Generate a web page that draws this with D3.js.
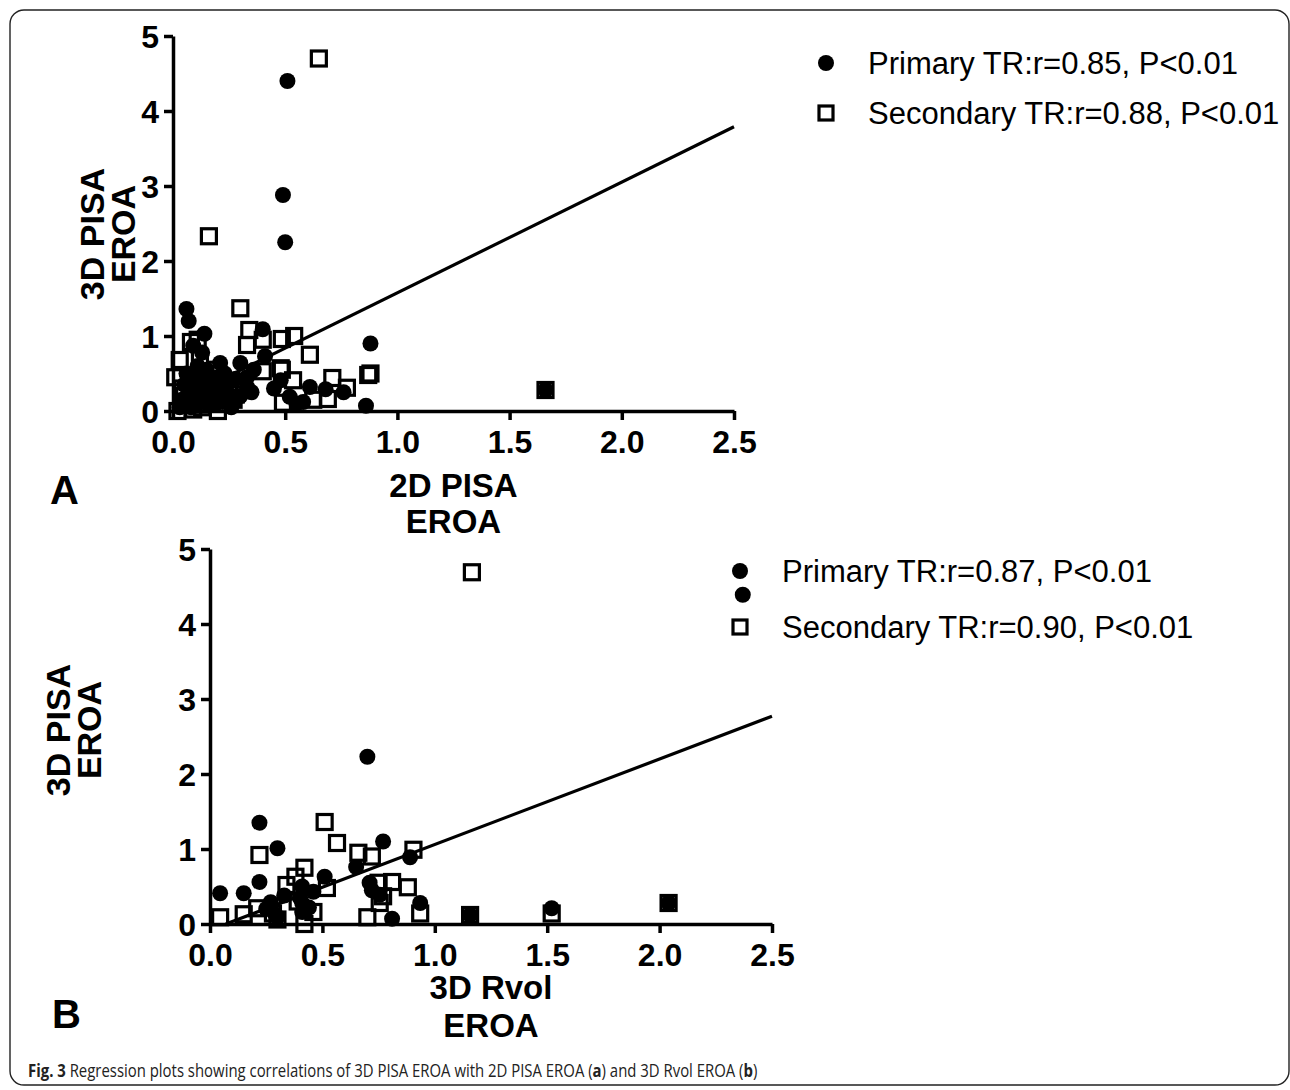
<!DOCTYPE html>
<html><head><meta charset="utf-8">
<script src="https://cdn.jsdelivr.net/npm/d3@7"></script>
<style>
html,body{margin:0;padding:0;background:#fff;}
svg{display:block;}
.tick text{font-family:"Liberation Sans Narrow","Liberation Sans",Arial,sans-serif;font-weight:bold;}
</style></head>
<body>
<svg id="chart" width="1290" height="1090"></svg>
<script>
// ---------- data ----------
const xTickValues = [0, 0.5, 1.0, 1.5, 2.0, 2.5];
const yTickValues = [0, 1, 2, 3, 4, 5];

const panelA_primary = [
  [0.51,4.40],[0.49,2.88],[0.50,2.25],[0.06,1.36],[0.07,1.20],[0.14,1.03],[0.40,1.09],
  [0.09,0.87],[0.13,0.78],[0.41,0.73],[0.21,0.64],[0.30,0.64],[0.88,0.90],[0.86,0.07],
  [0.48,0.41],[0.61,0.32],[0.68,0.29],[0.76,0.25],[0.33,0.32],[0.52,0.19],[0.28,0.43],
  [0.05,0.35],[0.08,0.25],[0.10,0.15],[0.12,0.40],[0.15,0.55],[0.17,0.30],[0.19,0.10],
  [0.23,0.50],[0.25,0.22],[0.03,0.05],[0.11,0.60],[0.16,0.08],[0.27,0.12],[0.36,0.55],
  [0.55,0.10],[0.58,0.12],[0.45,0.30],[1.66,0.28],[0.20,0.45],[0.06,0.50],[0.14,0.20],
  [0.04,0.15],[0.09,0.45],[0.13,0.30],[0.18,0.20],[0.22,0.12],[0.24,0.38],[0.30,0.20],
  [0.33,0.45],[0.20,0.28],[0.08,0.05],[0.26,0.05],[0.35,0.25],[0.11,0.10],[0.16,0.40]
];
const panelA_secondary = [
  [0.65,4.70],[0.16,2.33],[0.30,1.37],[1.66,0.28],[0.54,1.00],[0.61,0.75],[0.87,0.48],
  [0.88,0.50],[0.71,0.44],[0.535,0.41],[0.485,0.55],[0.625,0.15],[0.69,0.16],[0.775,0.31],
  [0.34,1.08],[0.33,0.88],[0.40,0.95],[0.485,0.96],[0.40,0.53],[0.48,0.57],[0.03,0.68],
  [0.01,0.45],[0.08,0.92],[0.11,0.95],[0.49,0.11],[0.20,0.00],[0.02,0.00],[0.18,0.26],
  [0.22,0.33],[0.27,0.15],[0.05,0.20],[0.10,0.35],[0.13,0.05],[0.15,0.42],[0.07,0.10],
  [0.25,0.30],[0.12,0.70],[0.19,0.55],[0.04,0.30],[0.28,0.22],[0.09,0.02]
];
const panelA_fitX = [0.0, 2.5];
const panelA_fitY = [0.10, 3.79];

const panelB_primary = [
  [2.37,4.39],[0.70,2.23],[0.22,1.35],[0.30,1.01],[0.77,1.10],[0.65,0.76],[0.89,0.89],
  [0.045,0.41],[0.15,0.41],[0.22,0.56],[0.27,0.29],[0.33,0.38],[0.41,0.50],[0.46,0.43],
  [0.51,0.63],[0.41,0.28],[0.41,0.16],[0.30,0.09],[0.71,0.55],[0.755,0.39],[0.81,0.07],
  [0.935,0.28],[1.157,0.12],[1.52,0.21],[2.04,0.28],[0.29,0.13],[0.40,0.35],[0.72,0.45],
  [0.25,0.20],[0.44,0.22]
];
const panelB_secondary = [
  [1.165,4.69],[0.51,1.36],[0.565,1.08],[0.22,0.92],[0.66,0.95],[0.72,0.90],[0.905,0.99],
  [0.42,0.75],[0.38,0.63],[0.34,0.52],[0.52,0.48],[0.81,0.56],[0.88,0.49],[0.75,0.55],
  [0.77,0.37],[0.045,0.09],[0.15,0.13],[0.21,0.21],[0.28,0.14],[0.46,0.16],[0.42,0.00],
  [0.70,0.09],[0.755,0.28],[0.935,0.14],[1.157,0.12],[1.52,0.14],[2.04,0.28],[0.30,0.06],
  [0.39,0.30]
];
const panelB_fitX = [0.07, 2.5];
const panelB_fitY = [0.0, 2.77];

const legendA = ["Primary TR:r=0.85, P<0.01", "Secondary TR:r=0.88, P<0.01"];
const legendB = ["Primary TR:r=0.87, P<0.01", "Secondary TR:r=0.90, P<0.01"];
const xTitleA = ["2D  PISA", "EROA"];
const xTitleB = ["3D Rvol", "EROA"];
const yTitle = ["3D PISA", "EROA"];

// ---------- drawing ----------
const svg = d3.select("#chart");
const NARROW = '"Liberation Sans Narrow","Liberation Sans",Arial,sans-serif';
const SANS = '"Liberation Sans",Arial,sans-serif';

// frame
svg.append("rect").attr("x",10).attr("y",10).attr("width",1279).attr("height",1075)
  .attr("rx",14).attr("ry",14).attr("fill","none").attr("stroke","#222").attr("stroke-width",1.4);

function panel(cfg){
  const x = d3.scaleLinear().domain([0,2.5]).range([cfg.x0, cfg.x1]);
  const y = d3.scaleLinear().domain([0,5]).range([cfg.y0, cfg.y1]);
  const g = svg.append("g");

  const xa = g.append("g").attr("transform",`translate(0,${cfg.y0})`)
    .call(d3.axisBottom(x).tickValues(xTickValues).tickFormat(d3.format(".1f")).tickSize(9).tickSizeOuter(0).tickPadding(10));
  const ya = g.append("g").attr("transform",`translate(${cfg.x0},0)`)
    .call(d3.axisLeft(y).tickValues(yTickValues).tickFormat(d3.format("d")).tickSize(9).tickSizeOuter(0).tickPadding(5));
  [xa,ya].forEach(a=>{
    a.select(".domain").attr("stroke","#000").attr("stroke-width",3.5);
    a.selectAll(".tick line").attr("stroke","#000").attr("stroke-width",3.5);
    a.selectAll(".tick text").attr("fill","#000").style("font-size","32px");
  });
  ya.selectAll(".tick text").attr("dy","0.36em");

  // regression line
  g.append("line")
    .attr("x1",x(cfg.fitX[0])).attr("y1",y(cfg.fitY[0]))
    .attr("x2",x(cfg.fitX[1])).attr("y2",y(cfg.fitY[1]))
    .attr("stroke","#000").attr("stroke-width",3.2);

  // primary: filled circles
  g.append("g").selectAll("circle").data(cfg.primary).join("circle")
    .attr("cx",d=>x(d[0])).attr("cy",d=>y(d[1])).attr("r",8).attr("fill","#000");
  // secondary: open squares
  const s = 15;
  g.append("g").selectAll("rect").data(cfg.secondary).join("rect")
    .attr("x",d=>x(d[0])-s/2).attr("y",d=>y(d[1])-s/2).attr("width",s).attr("height",s)
    .attr("fill","none").attr("stroke","#000").attr("stroke-width",3.2);

  // x title
  cfg.xTitle.forEach((t,i)=>{
    g.append("text").attr("x",(cfg.x0+cfg.x1)/2).attr("y",cfg.xTitleY + i*cfg.xTitleGap)
      .attr("text-anchor","middle").style("font-family",NARROW).style("font-weight","bold")
      .style("font-size","33px").text(t);
  });
  // y title
  cfg.yTitle.forEach((t,i)=>{
    g.append("text").attr("transform",`translate(${cfg.yTitleX + i*31},${cfg.yTitleCY}) rotate(-90)`)
      .attr("text-anchor","middle").style("font-family",NARROW).style("font-weight","bold")
      .style("font-size","34px").text(t);
  });
  // legend
  cfg.legend.forEach((t,i)=>{
    const ly = cfg.legY + i*cfg.legGap;
    if(i===0){
      g.append("circle").attr("cx",cfg.legX).attr("cy",ly).attr("r",8).attr("fill","#000");
    } else {
      g.append("rect").attr("x",cfg.legX-7).attr("y",ly-7).attr("width",14).attr("height",14)
        .attr("fill","none").attr("stroke","#000").attr("stroke-width",3.2);
    }
    g.append("text").attr("x",cfg.legX+42).attr("y",ly+11).style("font-family",SANS)
      .style("font-size","31px").attr("fill","#000").text(t);
  });
  // panel letter
  g.append("text").attr("x",cfg.letterX).attr("y",cfg.letterY).style("font-family",SANS)
    .style("font-weight","bold").style("font-size","40px").text(cfg.letter);
}

panel({x0:173,x1:734,y0:411,y1:36,primary:panelA_primary,secondary:panelA_secondary,
  fitX:panelA_fitX,fitY:panelA_fitY,xTitle:xTitleA,xTitleY:497,xTitleGap:36,
  yTitle:yTitle,yTitleX:104,yTitleCY:234,legend:legendA,legX:826,legY:63,legGap:50,
  letter:"A",letterX:50,letterY:504});
panel({x0:210,x1:772,y0:924,y1:549,primary:panelB_primary,secondary:panelB_secondary,
  fitX:panelB_fitX,fitY:panelB_fitY,xTitle:xTitleB,xTitleY:999,xTitleGap:38,
  yTitle:yTitle,yTitleX:70,yTitleCY:730,legend:legendB,legX:740,legY:571,legGap:56,
  letter:"B",letterX:52,letterY:1028});

// caption (single condensed line, scaled horizontally to the reference width)
const cap = svg.append("text").attr("x",0).attr("y",0)
  .style("font-family",'"Open Sans","Noto Sans",sans-serif').style("font-size","18px").attr("fill","#222");
cap.append("tspan").style("font-weight","bold").text("Fig. 3");
cap.append("tspan").text(" Regression plots showing correlations of 3D PISA EROA with 2D PISA EROA (");
cap.append("tspan").style("font-weight","bold").text("a");
cap.append("tspan").text(") and 3D Rvol EROA (");
cap.append("tspan").style("font-weight","bold").text("b");
cap.append("tspan").text(")");
const natural = cap.node().getComputedTextLength();
const k = 730 / natural;
cap.attr("transform",`translate(28,1077) scale(${k},1)`);
</script>
</body></html>
